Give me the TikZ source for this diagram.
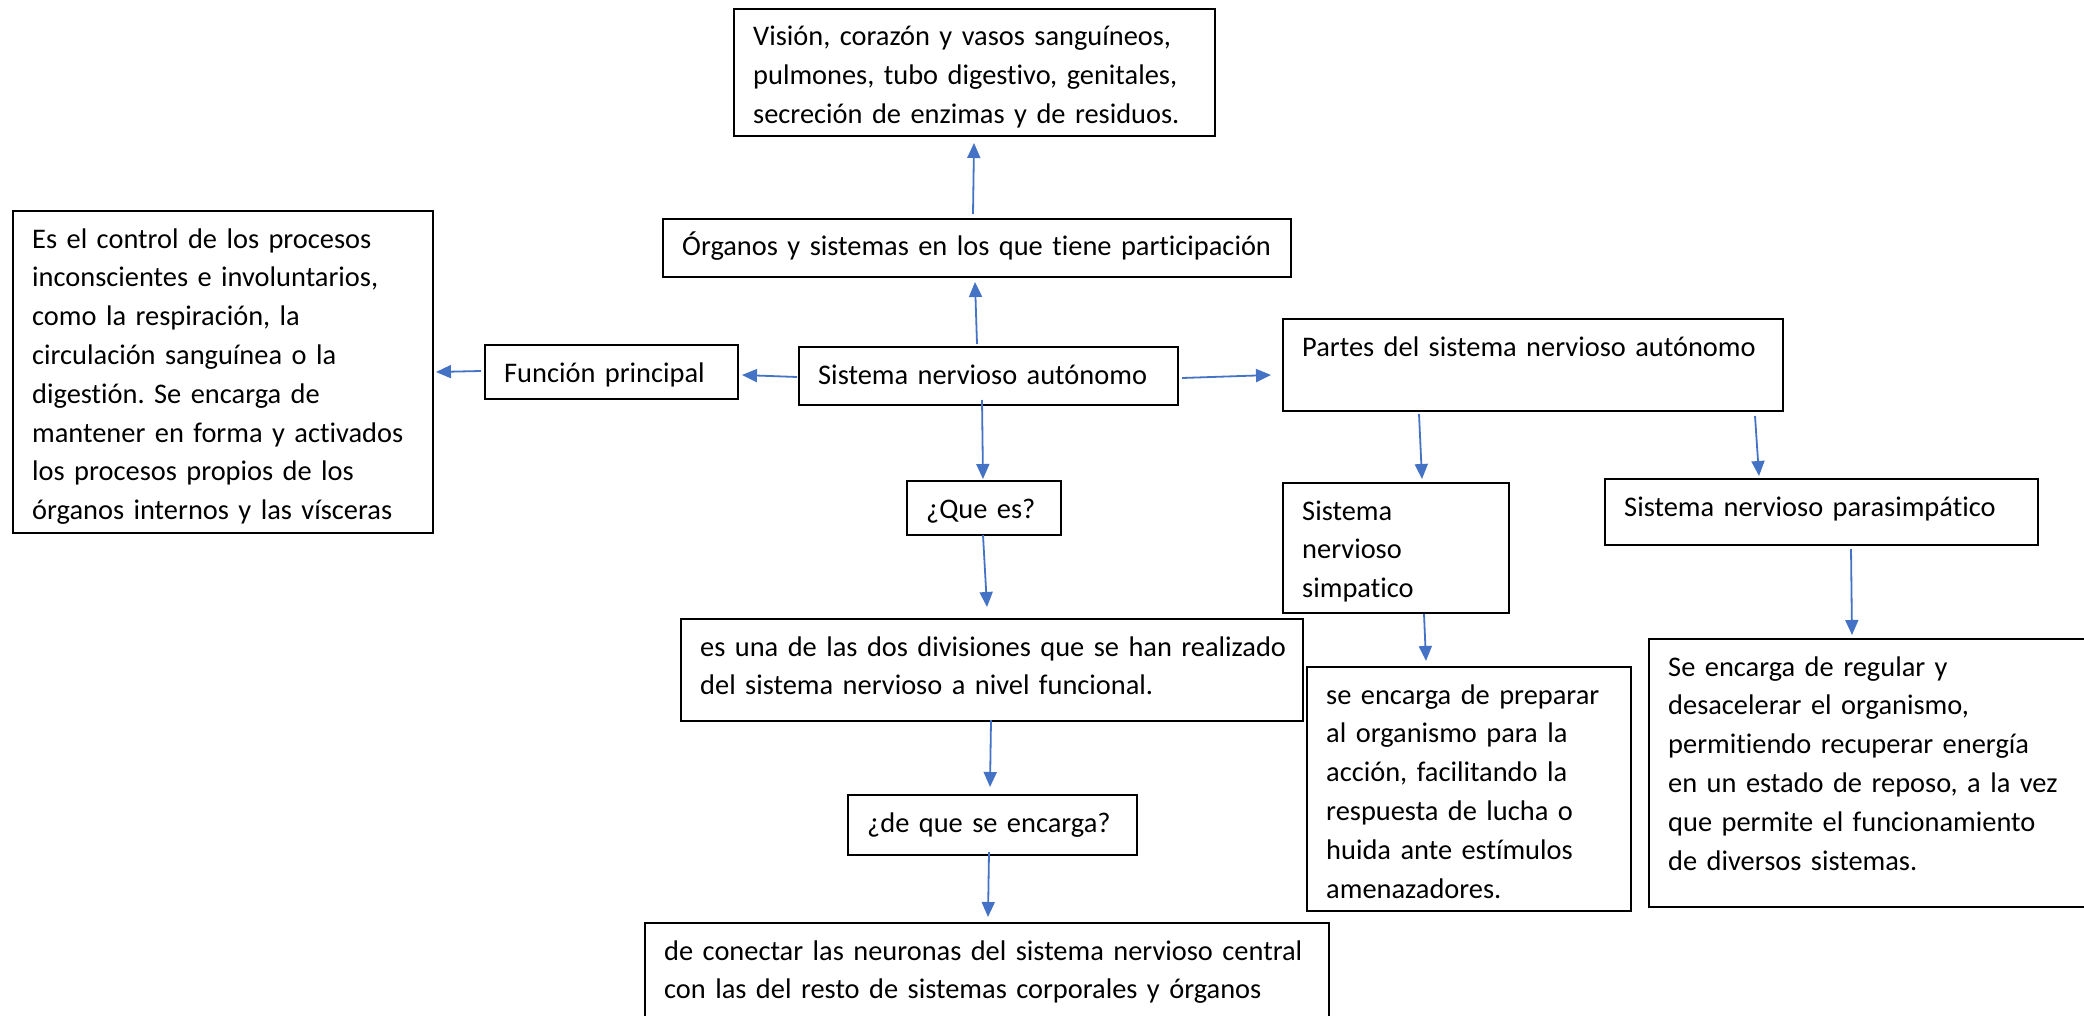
\documentclass[tikz,border=0pt]{standalone}
\usepackage{fontspec}
\setmainfont{Carlito}[Ligatures=NoCommon]
\usetikzlibrary{calc,arrows.meta}
\definecolor{arr}{HTML}{4472C4}
\frenchspacing
\tikzset{
 boxst/.style={draw=black, line width=2pt, rectangle, inner sep=0pt, anchor=north west},
 txt/.style={inner sep=0pt, anchor=base west, align=left, text width=1000pt, font=\fontsize{28.4}{38.8}\selectfont},
 conn/.style={draw=arr, line width=1.8pt, -{Triangle[length=15pt,width=13pt]}},
}
\newcommand\mybox[6]{%
 \node[boxst, minimum width=#4pt, minimum height=#5pt] (#1) at (#2,#3) {};
 \node[txt] (#1t) at ($(#1.north west)+(20,38)$) {#6};
}
\begin{document}
\begin{tikzpicture}[x=1pt,y=-1pt]
\useasboundingbox (0,0) rectangle (2084,1016);
\clip (0,0) rectangle (2084,1016);
\fill[white] (0,0) rectangle (2084,1016);
\mybox{vis}{733}{8}{481}{127}{Visión, corazón y vasos sanguíneos,\\ pulmones, tubo digestivo, genitales,\\ secreción de enzimas y de residuos.}
\mybox{org}{662}{218}{628}{58}{Órganos y sistemas en los que tiene participación}
\mybox{ctrl}{12}{210}{420}{322}{Es el control de los procesos\\ inconscientes e involuntarios,\\ como la respiración, la\\ circulación sanguínea o la\\ digestión. Se encarga de\\ mantener en forma y activados\\ los procesos propios de los\\ órganos internos y las vísceras}
\mybox{fun}{484}{344}{253}{54}{Función principal}
\mybox{auto}{798}{346}{379}{58}{Sistema nervioso autónomo}
\mybox{que}{906}{480}{154}{54}{¿Que es?}
\mybox{partes}{1282}{318}{500}{92}{Partes del sistema nervioso autónomo}
\mybox{simp}{1282}{482}{226}{130}{Sistema\\ nervioso\\ simpatico}
\mybox{para}{1604}{478}{433}{66}{Sistema nervioso parasimpático}
\mybox{prep}{1306}{666}{324}{244}{se encarga de preparar\\ al organismo para la\\ acción, facilitando la\\ respuesta de lucha o\\ huida ante estímulos\\ amenazadores.}
\mybox{reg}{1648}{638}{442}{268}{Se encarga de regular y\\ desacelerar el organismo,\\ permitiendo recuperar energía\\ en un estado de reposo, a la vez\\ que permite el funcionamiento\\ de diversos sistemas.}
\mybox{esuna}{680}{618}{622}{102}{es una de las dos divisiones que se han realizado\\ del sistema nervioso a nivel funcional.}
\mybox{dequ}{847}{794}{289}{60}{¿de que se encarga?}
\mybox{conec}{644}{922}{684}{110}{de conectar las neuronas del sistema nervioso central\\ con las del resto de sistemas corporales y órganos}
% connectors
\draw[conn] ($(auto.north)+(-11.5,-2)$) -- ($(org.south)+(-2,4)$);
\draw[conn] ($(org.north)+(-4,-4)$) -- ($(vis.south)+(-0.5,6)$);
\draw[conn] ($(auto.west)+(-1,1)$) -- ($(fun.east)+(3,3)$);
\draw[conn] ($(fun.west)+(-3,-1)$) -- ($(ctrl.east)+(2,0)$);
\draw[conn] ($(auto.east)+(3,2)$) -- ($(partes.west)+(-11,10)$);
\draw[conn] ($(auto.south)+(-6.5,-6)$) -- ($(que.north)+(-1,-1)$);
\draw[conn] ($(que.south)+(-1,-1)$) -- ($(esuna.north)+(-5,-11)$);
\draw[conn] ($(esuna.south)+(-1,-2)$) -- ($(dequ.north)+(-2.5,-7)$);
\draw[conn] ($(dequ.south)+(-3.5,-4)$) -- ($(conec.north)+(1,-5)$);
\draw[conn] ($(partes.south)+(-114,2)$) -- ($(simp.north)+(26,-3)$);
\draw[conn] ($(partes.south)+(222,4)$) -- ($(para.north)+(-62.5,-2)$);
\draw[conn] ($(simp.south)+(28,0)$) -- ($(prep.north)+(-43,-5)$);
\draw[conn] ($(para.south)+(29.5,3)$) -- ($(reg.north west)+(204,-3)$);
\end{tikzpicture}
\end{document}
